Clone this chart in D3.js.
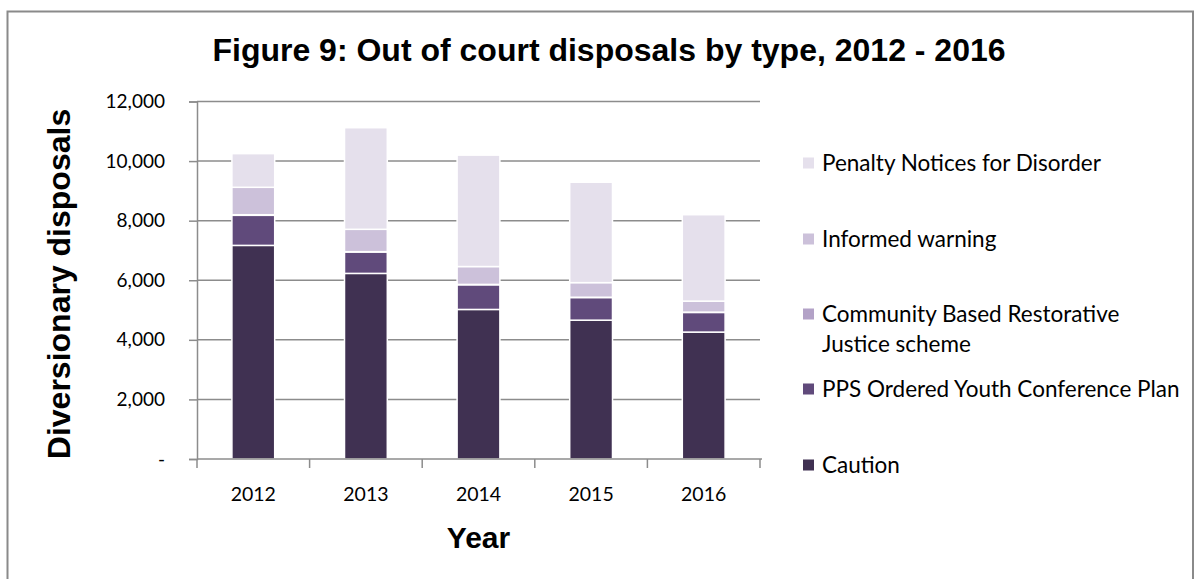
<!DOCTYPE html>
<html>
<head>
<meta charset="utf-8">
<script src="https://cdn.jsdelivr.net/npm/d3@7"></script>
<style>
  html, body { margin: 0; padding: 0; background: #fff; }
  svg { display: block; }
</style>
</head>
<body>
<svg id="chart" width="1196" height="579"></svg>
<script>
// Out of court disposals by type, 2012 - 2016
const years = ["2012", "2013", "2014", "2015", "2016"];
const seriesNames = [
  "Caution",
  "PPS Ordered Youth Conference Plan",
  "Community Based Restorative Justice scheme",
  "Informed warning",
  "Penalty Notices for Disorder"
];
const caution   = [7170, 6230, 5020, 4660, 4260];
const ppsPlan   = [1010, 720, 830, 760, 660];
const community = [20, 10, 10, 10, 10];
const informed  = [920, 750, 600, 490, 370];
const penalty   = [1130, 3410, 3740, 3370, 2900];
const yTicks = [0, 2000, 4000, 6000, 8000, 10000, 12000];
const colors = ["#403152", "#604A7B", "#B3A2C7", "#CCC1DA", "#E5E0EC"];

const title = "Figure 9: Out of court disposals by type, 2012 - 2016";
const yTitle = "Diversionary disposals";
const xTitle = "Year";

const svg = d3.select("#chart");
const bodyFont = "Lato, 'Open Sans', sans-serif";
const headFont = "'Liberation Sans', Arial, sans-serif";

// chart area frame
svg.append("path")
  .attr("d", "M7.5,590 V11.5 H1193 V590")
  .attr("fill", "none").attr("stroke", "#8a8a8a").attr("stroke-width", 2);

const plot = { left: 197, right: 760, top: 101.5, bottom: 459 };

const x = d3.scaleBand().domain(years).range([plot.left, plot.right]).paddingInner(0.62).paddingOuter(0.31);
const y = d3.scaleLinear().domain([0, 12000]).range([plot.bottom, plot.top]);

// table for the stack
const table = years.map((yr, i) => ({
  year: yr,
  [seriesNames[0]]: caution[i],
  [seriesNames[1]]: ppsPlan[i],
  [seriesNames[2]]: community[i],
  [seriesNames[3]]: informed[i],
  [seriesNames[4]]: penalty[i]
}));
const stacked = d3.stack().keys(seriesNames)(table);

// gridlines
svg.append("g").selectAll("line").data(yTicks.slice(1)).join("line")
  .attr("x1", plot.left).attr("x2", plot.right)
  .attr("y1", d => y(d)).attr("y2", d => y(d))
  .attr("stroke", "#8c8c8c").attr("stroke-width", 1.5);

// y axis
const yAxis = d3.axisLeft(y).tickValues(yTicks).tickSize(8).tickPadding(24)
  .tickFormat(d => d === 0 ? "-" : d3.format(",")(d));
const gy = svg.append("g").attr("transform", `translate(${plot.left},0)`).call(yAxis);
gy.select(".domain").attr("stroke", "#8c8c8c").attr("stroke-width", 1.5);
gy.selectAll(".tick line").attr("stroke", "#8c8c8c").attr("stroke-width", 1.5);
gy.selectAll(".tick text").attr("font-family", bodyFont).attr("font-size", 19).attr("fill", "#000");

// bars
svg.append("g").selectAll("g").data(stacked).join("g")
  .attr("fill", (d, i) => colors[i])
  .selectAll("rect").data(d => d).join("rect")
  .attr("x", d => x(d.data.year))
  .attr("width", x.bandwidth())
  .attr("y", d => y(d[1]))
  .attr("height", d => y(d[0]) - y(d[1]))
  .attr("stroke", "#fff").attr("stroke-width", 1.5);

// x axis with ticks between categories
const bounds = years.map(yr => x(yr) - x.step() * x.paddingInner() / 2).concat([plot.right]);
const gx = svg.append("g");
gx.append("line").attr("x1", plot.left).attr("x2", plot.right + 2)
  .attr("y1", plot.bottom).attr("y2", plot.bottom)
  .attr("stroke", "#8c8c8c").attr("stroke-width", 1.5);
gx.selectAll("line.tk").data(bounds).join("line").attr("class", "tk")
  .attr("x1", d => d).attr("x2", d => d)
  .attr("y1", plot.bottom).attr("y2", plot.bottom + 9)
  .attr("stroke", "#8c8c8c").attr("stroke-width", 1.5);
gx.selectAll("text").data(years).join("text")
  .attr("x", d => x(d) + x.bandwidth() / 2).attr("y", 501)
  .attr("text-anchor", "middle")
  .attr("font-family", bodyFont).attr("font-size", 19.5).attr("fill", "#000")
  .text(d => d);

// titles
svg.append("text").attr("x", 609).attr("y", 61).attr("text-anchor", "middle")
  .attr("font-family", headFont).attr("font-weight", "bold").attr("font-size", 32)
  .text(title);
svg.append("text").attr("x", (plot.left + plot.right) / 2).attr("y", 548).attr("text-anchor", "middle")
  .attr("font-family", headFont).attr("font-weight", "bold").attr("font-size", 30)
  .text(xTitle);
svg.append("text").attr("transform", "translate(70,284) rotate(-90)").attr("text-anchor", "middle")
  .attr("font-family", headFont).attr("font-weight", "bold").attr("font-size", 32)
  .text(yTitle);

// legend (top to bottom: reverse of stack order)
const legendRows = [
  { i: 4, lines: ["Penalty Notices for Disorder"], cy: 163 },
  { i: 3, lines: ["Informed warning"], cy: 239 },
  { i: 2, lines: ["Community Based Restorative", "Justice scheme"], cy: 314 },
  { i: 1, lines: ["PPS Ordered Youth Conference Plan"], cy: 389 },
  { i: 0, lines: ["Caution"], cy: 465 }
];
const lg = svg.append("g").selectAll("g").data(legendRows).join("g");
lg.append("rect").attr("x", 803).attr("y", d => d.cy - 5.5).attr("width", 11).attr("height", 11)
  .attr("fill", d => colors[d.i]);
lg.each(function(d) {
  const t = d3.select(this).append("text")
    .attr("font-family", bodyFont).attr("font-size", 22.5).attr("fill", "#000");
  d.lines.forEach((ln, k) => {
    t.append("tspan").attr("x", 822).attr("y", d.cy + 8 + k * 30).text(ln);
  });
});
</script>
</body>
</html>
